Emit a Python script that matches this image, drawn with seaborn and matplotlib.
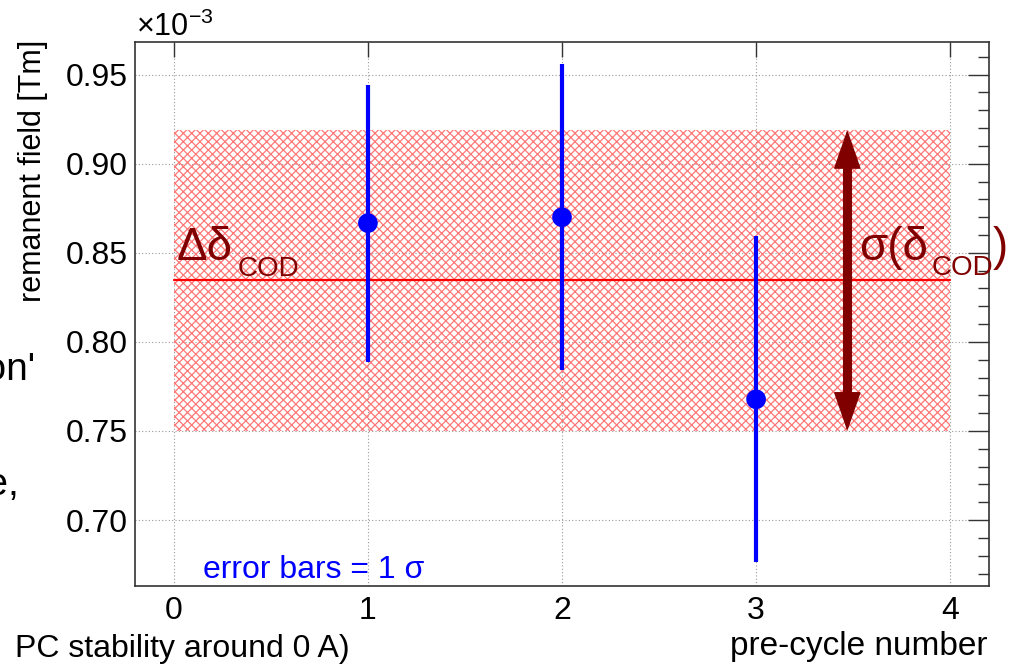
import numpy as np
import pandas as pd
import matplotlib
matplotlib.use("Agg")
import matplotlib.pyplot as plt
import seaborn as sns
from matplotlib.patches import FancyArrowPatch
from matplotlib.ticker import MultipleLocator, FormatStrFormatter

# ---- data (remanent field in units of 1e-3 Tm) ----
cycles = [1, 2, 3]
field = [0.8667, 0.8700, 0.7678]
field_err = [0.0777, 0.0860, 0.0915]
mean_field = 0.8347
band_low = 0.750
band_high = 0.919
band_x = [0, 4]
arrow_x = 3.47

df = pd.DataFrame({"cycle": cycles, "field": field, "err": field_err})

sns.set_theme(style="white")
plt.rcParams["font.family"] = ["Liberation Sans", "DejaVu Sans"]
plt.rcParams["text.color"] = "black"
plt.rcParams["mathtext.fontset"] = "custom"
plt.rcParams["mathtext.rm"] = "Liberation Sans"
plt.rcParams["mathtext.it"] = "Liberation Sans:italic"
plt.rcParams["mathtext.bf"] = "Liberation Sans:bold"
plt.rcParams["hatch.linewidth"] = 0.9

W, H = 1019, 664
fig = plt.figure(figsize=(W / 100, H / 100), dpi=100)
ax = fig.add_axes([135 / W, 1 - 586 / H, (989 - 135) / W, (586 - 41.7) / H])

ax.set_xlim(-0.2, 4.2)
ax.set_ylim(0.663, 0.9685)

ax.xaxis.set_major_locator(MultipleLocator(1))
ax.yaxis.set_major_locator(MultipleLocator(0.05))
ax.yaxis.set_minor_locator(MultipleLocator(0.01))
ax.yaxis.set_major_formatter(FormatStrFormatter("%.2f"))
ax.grid(True, which="major", color="#999999", linestyle=(0, (1, 2)), linewidth=0.8, zorder=0)
ax.set_axisbelow(True)

# hatched band
ax.fill_between(band_x, band_low, band_high, facecolor="none", edgecolor="#ff7878",
                hatch="xxxx", linewidth=0, zorder=1)
# mean line
ax.plot(band_x, [mean_field, mean_field], color="#ff0000", lw=1.6, zorder=2)

# error bars and points
ax.errorbar(df["cycle"], df["field"], yerr=df["err"], fmt="none", ecolor="#0000ff",
            elinewidth=3, capsize=0, zorder=3)
sns.scatterplot(data=df, x="cycle", y="field", ax=ax, color="#0000ff", s=200,
                edgecolor="none", zorder=4, legend=False)

# sigma arrow: heads + thick shaft
arr = FancyArrowPatch((arrow_x, band_low), (arrow_x, band_high),
                      arrowstyle="<|-|>,head_length=26,head_width=9",
                      mutation_scale=1, color="#800000", lw=1, shrinkA=0, shrinkB=0,
                      zorder=5)
ax.add_patch(arr)
ax.plot([arrow_x, arrow_x], [band_low + 0.016, band_high - 0.016], color="#800000",
        lw=6.5, solid_capstyle="butt", zorder=5)


def ftext(x, y, s, **kw):
    return fig.text(x / W, 1 - y / H, s, **kw)


# annotations (pixel positions)
ftext(177, 260, "Δδ", color="#800000", fontsize=33, ha="left", va="baseline", zorder=6)
ftext(238, 276, "COD", color="#800000", fontsize=20, ha="left", va="baseline", zorder=6)
ftext(859, 260, "σ(δ", color="#800000", fontsize=33, ha="left", va="baseline", zorder=6)
ftext(932, 275, "COD", color="#800000", fontsize=20, ha="left", va="baseline", zorder=6)
ftext(993, 260, ")", color="#800000", fontsize=33, ha="left", va="baseline", zorder=6)
ftext(203, 578, "error bars = 1 σ", color="#0000ff", fontsize=23, ha="left",
      va="baseline", zorder=6)

# ticks
ax.tick_params(axis="both", which="both", direction="in", top=True, right=True,
               colors="#333333", labelcolor="black")
ax.tick_params(axis="y", which="major", length=15, width=1, labelsize=23, pad=5)
ax.tick_params(axis="y", which="minor", length=8, width=1)
ax.tick_params(axis="x", which="major", length=11, width=1, labelsize=23, pad=7)
for s in ax.spines.values():
    s.set_color("#333333")
    s.set_linewidth(1.2)

ax.set_xlabel("")
ax.set_ylabel("")
ftext(33, 40, "remanent field [Tm]", rotation=90, ha="center", va="top", fontsize=22)
ftext(988, 655, "pre-cycle number", ha="right", va="baseline", fontsize=24)
ftext(136, 36, r"$\times10^{-3}$", ha="left", va="baseline", fontsize=22)

# fragments of surrounding slide text
ftext(35, 380, "tion'", ha="right", va="baseline", fontsize=28)
ftext(19, 495, "ce,", ha="right", va="baseline", fontsize=28)
ftext(15, 657, "PC stability around 0 A)", ha="left", va="baseline", fontsize=23)

fig.savefig("out.png", dpi=100)
